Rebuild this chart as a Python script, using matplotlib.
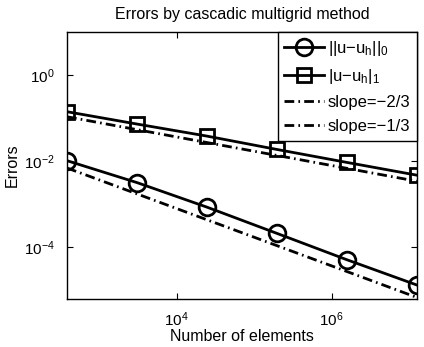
import matplotlib
matplotlib.use("Agg")
import matplotlib.pyplot as plt  # noqa: E402
from matplotlib.ticker import FixedLocator, LogFormatterMathtext, NullLocator  # noqa: E402

plt.rcParams["font.family"] = ["Liberation Sans", "DejaVu Sans"]
plt.rcParams["mathtext.fontset"] = "custom"
plt.rcParams["mathtext.rm"] = "Liberation Sans"
plt.rcParams["mathtext.it"] = "Liberation Sans"

# 요소 수 (3D 균일 세분, 8배씩)
n_elements = [384, 3072, 24576, 196608, 1572864, 12582912]
err_l2 = [1.02e-2, 3.16e-3, 8.5e-4, 2.09e-4, 5.1e-5, 1.32e-5]
err_h1 = [0.140, 0.0724, 0.038, 0.0186, 0.0093, 0.0047]

# 기준 기울기 선 (양 끝점)
slope_n = [384, 12582912]
slope_23 = [6.9e-3, 6.8e-6]
slope_13 = [0.107, 3.4e-3]

fig = plt.figure(figsize=(4.24, 3.47), dpi=100)
ax = fig.add_axes([0.158, 0.138, 0.825, 0.770])

ax.loglog(n_elements, err_l2, "k-", marker="o", lw=2, ms=12, mfc="none",
          mew=2, label="||u\u2212u$_\\mathrm{h}$||$_0$")
ax.loglog(n_elements, err_h1, "k-", marker="s", lw=2, ms=10, mfc="none",
          mew=2, label="|u\u2212u$_\\mathrm{h}$|$_1$")
ax.loglog(slope_n, slope_23, "k", lw=2, dashes=(3.5, 1.5, 0.6, 1.5),
          label="slope=\u22122/3")
ax.loglog(slope_n, slope_13, "k", lw=2, dashes=(3.5, 1.5, 0.6, 1.5),
          label="slope=\u22121/3")

ax.set_xlim(n_elements[0], n_elements[-1])
ax.set_ylim(6.2e-6, 10)

ax.xaxis.set_major_locator(FixedLocator([1e4, 1e6]))
ax.yaxis.set_major_locator(FixedLocator([1e-4, 1e-2, 1e0]))
ax.xaxis.set_minor_locator(NullLocator())
ax.yaxis.set_minor_locator(NullLocator())
ax.xaxis.set_major_formatter(LogFormatterMathtext())
ax.yaxis.set_major_formatter(LogFormatterMathtext())
ax.tick_params(direction="in", top=True, right=True, labelsize=11, length=4)
ax.tick_params(axis="x", pad=8)
ax.tick_params(axis="y", pad=9)
for sp in ax.spines.values():
    sp.set_linewidth(1.0)

ax.set_title("Errors by cascadic multigrid method", fontsize=11.5, pad=9)
ax.set_xlabel("Number of elements", fontsize=11.5, labelpad=0)
ax.set_ylabel("Errors", fontsize=11.5, labelpad=3)

leg = ax.legend(loc="upper right", fontsize=12, borderaxespad=0,
                handlelength=2.4, fancybox=False, framealpha=1,
                edgecolor="k", labelspacing=0.55, borderpad=0.4,
                handletextpad=0.2)
leg.get_frame().set_linewidth(1.0)

fig.savefig("out.png", dpi=100)
plt.close(fig)
